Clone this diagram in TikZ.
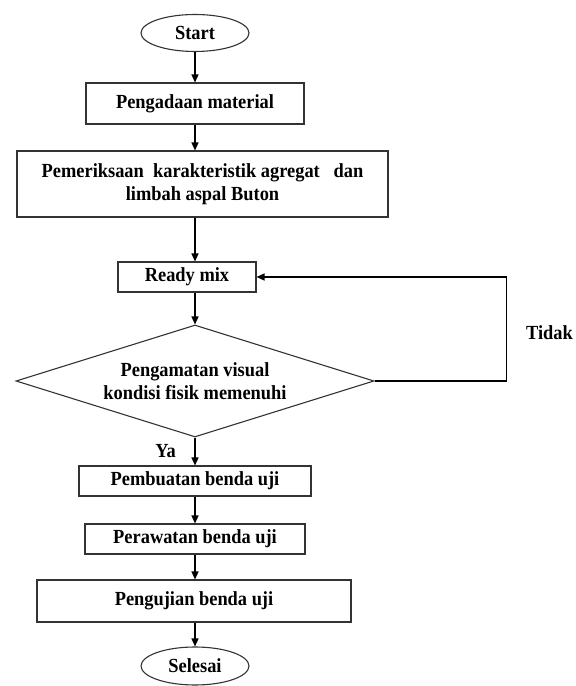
\documentclass[tikz,border=0pt]{standalone}
\usepackage{fontspec}
\setmainfont[FakeStretch=0.92]{Liberation Serif}
\usepackage{tikz}
\usetikzlibrary{shapes.geometric, arrows.meta}

\begin{document}
\begin{tikzpicture}[x=1pt, y=1pt,
    every node/.style={font=\bfseries\fontsize{20}{22.5}\selectfont, text=black},
    box/.style={draw=black!80, line width=1.1pt, rectangle, inner sep=0pt, align=center},
    term/.style={draw=black!80, line width=1.1pt, ellipse, inner sep=0pt},
    decision/.style={draw=black!80, line width=1.1pt, diamond, aspect=3.2, inner sep=0pt, align=center},
    arrow/.style={line width=1.4pt, -{Triangle[length=8pt, width=7pt]}}]
    \useasboundingbox (0,0) rectangle (576,686);
    \node[term, minimum width=108, minimum height=37] (start) at (195,653) {Start};
    \node[box, minimum width=218, minimum height=41] (pengadaan) at (195,582.5) {Pengadaan material};
    \node[box, minimum width=371, minimum height=66] (periksa) at (202.5,502)
        {Pemeriksaan\ \ karakteristik agregat\ \ \ dan\\limbah aspal Buton};
    \node[box, minimum width=138, minimum height=30] (ready) at (187,409) {Ready mix};
    \node[decision, minimum width=358, minimum height=112] (cek) at (195,305)
        {Pengamatan visual\\kondisi fisik memenuhi};
    \node[box, minimum width=232, minimum height=30] (pembuatan) at (195,205) {Pembuatan benda uji};
    \node[box, minimum width=220, minimum height=30] (perawatan) at (195,147) {Perawatan benda uji};
    \node[box, minimum width=314, minimum height=42] (pengujian) at (194,85) {Pengujian benda uji};
    \node[term, minimum width=108, minimum height=38] (selesai) at (195,20) {Selesai};
    \node (tidak) at (549.5,353) {Tidak};
    \node (ya) at (165.5,235) {Ya};
    % alur utama
    \draw[arrow] (start) -- (pengadaan);
    \draw[arrow] (pengadaan) -- (pengadaan.south |- periksa.north);
    \draw[arrow] (periksa.south -| start) -- (ready.north -| start);
    \draw[arrow] (ready.south -| start) -- (cek.north);
    \draw[arrow] (cek.south) -- (pembuatan);
    \draw[arrow] (pembuatan) -- (perawatan);
    \draw[arrow] (perawatan.south) -- (perawatan.south |- pengujian.north);
    \draw[arrow] (pengujian.south -| selesai) -- (selesai);
    % kembali ke ready mix
    \draw[arrow] (cek.east) -- ++(132,0) |- (ready.east);
\end{tikzpicture}
\end{document}
